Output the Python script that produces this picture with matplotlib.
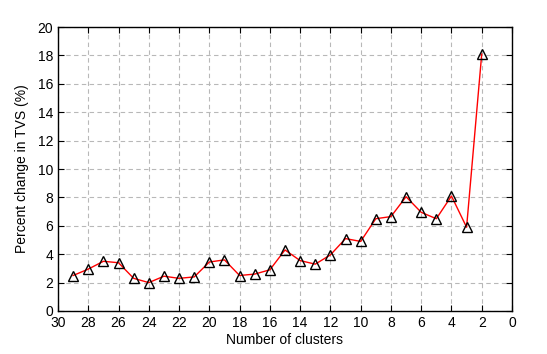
import matplotlib
matplotlib.use("Agg")
import matplotlib.pyplot as plt
import numpy as np

plt.rcParams['font.family'] = ['Liberation Sans', 'DejaVu Sans']

# number of clusters and percent change in TVS
clusters = [29, 28, 27, 26, 25, 24, 23, 22, 21, 20, 19, 18, 17, 16, 15,
            14, 13, 12, 11, 10, 9, 8, 7, 6, 5, 4, 3, 2]
tvs_change = [2.5, 2.95, 3.5, 3.4, 2.3, 2.0, 2.45, 2.3, 2.4, 3.45, 3.6, 2.5, 2.6, 2.9, 4.3,
              3.55, 3.3, 3.95, 5.1, 4.9, 6.5, 6.65, 8.05, 6.95, 6.5, 8.1, 5.9, 18.1]

x_ticks = np.arange(0, 31, 2)
y_ticks = np.arange(0, 21, 2)

fig = plt.figure(figsize=(5.47, 3.54), dpi=100)
ax = fig.add_axes([0.106, 0.1215, 0.830, 0.802])

ax.plot(clusters, tvs_change, color='red', linewidth=1,
        marker='^', markersize=7, markerfacecolor='none',
        markeredgecolor='black', markeredgewidth=1)

ax.set_xlim(30, 0)
ax.set_ylim(0, 20)
ax.set_xticks(x_ticks)
ax.set_yticks(y_ticks)

ax.grid(True, linestyle=(0, (4, 3)), color='#b8b8b8', linewidth=0.8)
ax.set_axisbelow(True)

ax.tick_params(direction='in', length=4, top=True, right=True, labelsize=10)
for s in ax.spines.values():
    s.set_linewidth(1)

ax.set_xlabel("Number of clusters", fontsize=10, labelpad=2)
ax.set_ylabel("Percent change in TVS (%)", fontsize=10, labelpad=6)

fig.savefig("out.png", dpi=100)
